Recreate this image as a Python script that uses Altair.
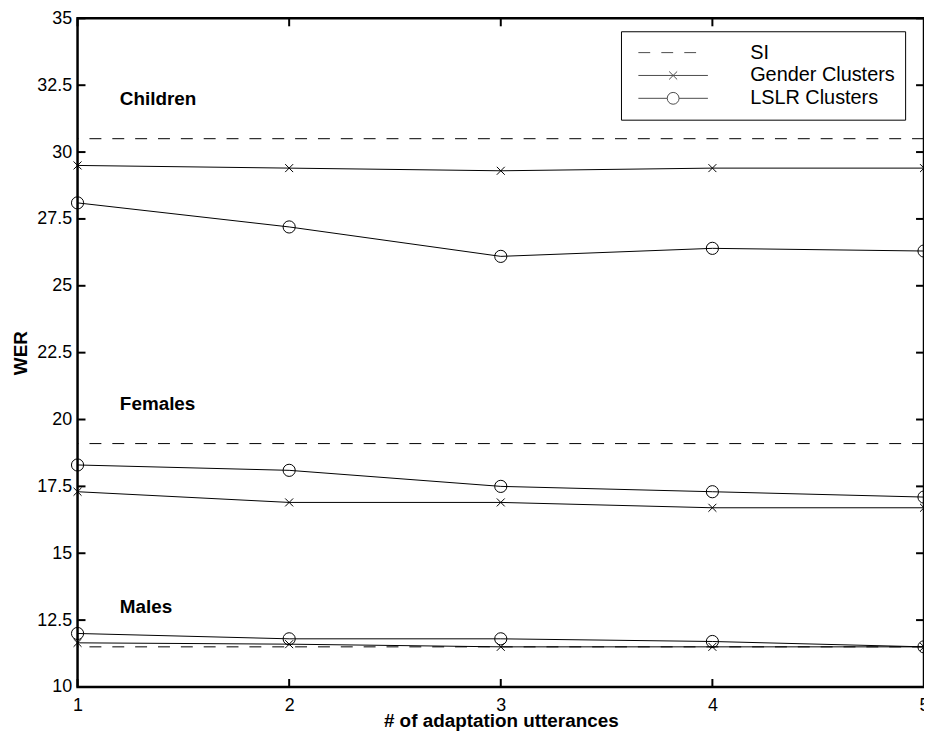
import altair as alt
import pandas as pd

# ---- data ----
utterances = [1, 2, 3, 4, 5]
groups = ["Children", "Females", "Males"]
si_wer = [30.5, 19.1, 11.5]
gender_wer = {
    "Children": [29.5, 29.4, 29.3, 29.4, 29.4],
    "Females": [17.3, 16.9, 16.9, 16.7, 16.7],
    "Males": [11.65, 11.6, 11.5, 11.5, 11.5],
}
lslr_wer = {
    "Children": [28.1, 27.2, 26.1, 26.4, 26.3],
    "Females": [18.3, 18.1, 17.5, 17.3, 17.1],
    "Males": [12.0, 11.8, 11.8, 11.7, 11.5],
}
series_names = ["SI", "Gender Clusters", "LSLR Clusters"]
label_text = ["Children", "Females", "Males"]
label_x = [1.2, 1.2, 1.2]
label_y = [31.75, 20.35, 12.75]
x_ticks = [1, 2, 3, 4, 5]
y_ticks = [10, 12.5, 15, 17.5, 20, 22.5, 25, 27.5, 30, 32.5, 35]

# ---- tables ----
rows = []
for g in groups:
    for x, v in zip(utterances, gender_wer[g]):
        rows.append({"group": g, "series": "Gender Clusters", "x": x, "wer": v})
    for x, v in zip(utterances, lslr_wer[g]):
        rows.append({"group": g, "series": "LSLR Clusters", "x": x, "wer": v})
df = pd.DataFrame(rows)
df_si = pd.DataFrame({"group": groups, "wer": si_wer})
df_lab = pd.DataFrame({"label": label_text, "x": label_x, "wer": label_y})
df_leg = pd.DataFrame({"series": series_names, "x": [None] * 3, "wer": [None] * 3})
df_xt = pd.DataFrame({"x": x_ticks})
df_yt = pd.DataFrame({"wer": y_ticks})

W, H = 852, 673
FONT = "Liberation Sans"
TL = 8

xs = alt.Scale(domain=[1, 5], nice=False, zero=False)
ys = alt.Scale(domain=[10, 35], nice=False, zero=False)

x_axis = alt.Axis(values=x_ticks, labelExpr="'' + datum.value", grid=False, domain=False,
                  ticks=False, labelFontSize=18, labelPadding=10, labelFlush=False,
                  labelOverlap=False, labelColor="black", labelFont=FONT,
                  title="# of adaptation utterances", titleFontSize=19, titleFont=FONT,
                  titleFontWeight="bold", titleColor="black", titleY=40, titleX=W / 2,
                  titleBaseline="alphabetic")
y_axis = alt.Axis(values=y_ticks, labelExpr="'' + datum.value", grid=False, domain=False,
                  ticks=False, labelFontSize=18, labelPadding=6, labelColor="black",
                  labelFont=FONT, labelOverlap=False,
                  title="WER", titleFontSize=19, titleFont=FONT, titleFontWeight="bold",
                  titleColor="black", titleX=-57, titleY=H / 2, titleAngle=270,
                  titleBaseline="middle", titleAlign="center")

base = alt.Chart(df)

gender_line = base.transform_filter(alt.datum.series == "Gender Clusters").mark_line(
    color="black", strokeWidth=1).encode(
    x=alt.X("x:Q", scale=xs, axis=x_axis),
    y=alt.Y("wer:Q", scale=ys, axis=y_axis),
    detail="group:N")
lslr_line = base.transform_filter(alt.datum.series == "LSLR Clusters").mark_line(
    color="black", strokeWidth=1).encode(
    x=alt.X("x:Q", scale=xs), y=alt.Y("wer:Q", scale=ys), detail="group:N")

x_path = "M-1,-1L1,1M-1,1L1,-1"
gender_pts = base.transform_filter(alt.datum.series == "Gender Clusters").mark_point(
    shape=x_path, size=64, color="black", strokeWidth=1, filled=False, opacity=1).encode(
    x=alt.X("x:Q", scale=xs), y=alt.Y("wer:Q", scale=ys))
lslr_pts = base.transform_filter(alt.datum.series == "LSLR Clusters").mark_point(
    shape="circle", size=150, color="black", strokeWidth=1, filled=False, opacity=1).encode(
    x=alt.X("x:Q", scale=xs), y=alt.Y("wer:Q", scale=ys))

si_rule = alt.Chart(df_si).mark_rule(color="black", strokeWidth=1, strokeDash=[12, 11]).encode(
    y=alt.Y("wer:Q", scale=ys))

labels = alt.Chart(df_lab).mark_text(
    align="left", baseline="alphabetic", fontSize=19, fontWeight="bold", font=FONT,
    color="black").encode(
    x=alt.X("x:Q", scale=xs), y=alt.Y("wer:Q", scale=ys), text="label:N")

# legend (hidden points, legend only)
leg_paths = [
    "M-1,0H-0.66M-0.34,0H0.0M0.32,0H0.66",
    "M-1,0H1M-0.115,-0.115L0.115,0.115M-0.115,0.115L0.115,-0.115",
    "M-1,0H-0.17M0.17,0H1M0.17,0A0.17,0.17 0 1,1 -0.17,0A0.17,0.17 0 1,1 0.17,0",
]
legend_layer = alt.Chart(df_leg).mark_point(filled=False, color="black", strokeWidth=1).encode(
    x=alt.X("x:Q", scale=xs), y=alt.Y("wer:Q", scale=ys),
    shape=alt.Shape("series:N", scale=alt.Scale(domain=series_names, range=leg_paths),
                    legend=alt.Legend(title=None, orient="none", legendX=547, legendY=13,
                                      symbolSize=4900, clipHeight=23, rowPadding=0,
                                      padding=10, symbolOffset=7, labelOffset=42,
                                      labelFontSize=20, labelFont=FONT, labelColor="black",
                                      symbolStrokeColor="black", symbolFillColor="transparent",
                                      symbolStrokeWidth=1, strokeColor="black",
                                      fillColor="white")))

# inward tick marks on all four sides
tick_l = alt.Chart(df_yt).mark_rule(color="black", strokeWidth=2).encode(
    y=alt.Y("wer:Q", scale=ys), x=alt.value(0), x2=alt.value(TL))
tick_r = alt.Chart(df_yt).mark_rule(color="black", strokeWidth=2).encode(
    y=alt.Y("wer:Q", scale=ys), x=alt.value(W - TL), x2=alt.value(W))
tick_b = alt.Chart(df_xt).mark_rule(color="black", strokeWidth=2).encode(
    x=alt.X("x:Q", scale=xs), y=alt.value(H - TL), y2=alt.value(H))
tick_t = alt.Chart(df_xt).mark_rule(color="black", strokeWidth=2).encode(
    x=alt.X("x:Q", scale=xs), y=alt.value(0), y2=alt.value(TL))

chart = alt.layer(
    si_rule, gender_line, lslr_line, gender_pts, lslr_pts, labels,
    tick_l, tick_r, tick_b, tick_t, legend_layer,
).properties(
    width=W, height=H,
    autosize=alt.AutoSizeParams(type="none"),
    padding={"left": 70, "top": 8, "right": 0, "bottom": 55},
    background="white",
).configure_view(
    stroke="black", strokeWidth=2.5
)

chart.save("out.html", embed_options={"renderer": "svg", "actions": False})
